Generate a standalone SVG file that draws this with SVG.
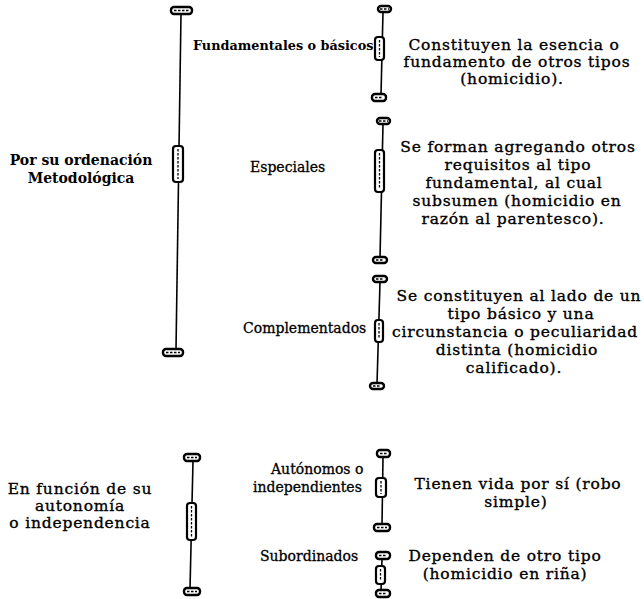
<svg xmlns="http://www.w3.org/2000/svg" width="644" height="599" viewBox="0 0 644 599">
<defs>
<style>
.bg{fill:#fff}
.t{font-family:"DejaVu Serif","Liberation Serif",serif;fill:#000}
.lb{font-size:14px;font-weight:bold;text-anchor:middle}
.mb{font-size:12.8px;font-weight:bold}
.m{font-size:14px;stroke:#000;stroke-width:0.3}
.r{font-size:15.5px;letter-spacing:0.8px;text-anchor:middle;stroke:#000;stroke-width:0.35}
.ln{stroke:#000;stroke-width:1.6;fill:none}
.cap{fill:#fff;stroke:#000;stroke-width:2.4}
.mid{fill:#fff;stroke:#000;stroke-width:2.2}
.tex{stroke:#000;stroke-width:1.3;stroke-dasharray:2.5 1.5;fill:none}
</style>
</defs>
<rect class="bg" width="644" height="599"/>
<g id="connectors">
  <g id="brace-left-1">
    <path class="ln" d="M181 14 L176 350"/>
    <rect class="cap" x="171" y="7" width="21" height="7" rx="3"/><path class="tex" d="M174 10.5 H189"/>
    <rect class="mid" x="173" y="146" width="10" height="36" rx="3"/><path class="tex" d="M178 149 V179"/>
    <rect class="cap" x="163" y="349" width="20" height="7" rx="3"/><path class="tex" d="M166 352.5 H180"/>
  </g>
  <g id="brace-right-1">
    <path class="ln" d="M383 12 L381 95"/>
    <rect class="cap" x="378" y="6" width="13" height="6" rx="3"/><path class="tex" d="M380 9 H389"/>
    <rect class="mid" x="375" y="37" width="9" height="23" rx="3"/><path class="tex" d="M379.5 40 V57"/>
    <rect class="cap" x="372" y="94" width="14" height="7" rx="3"/><path class="tex" d="M375 97.5 H383"/>
  </g>
  <g id="brace-right-2">
    <path class="ln" d="M383 124 L380 258"/>
    <rect class="cap" x="377" y="118" width="13" height="6" rx="3"/><path class="tex" d="M379 121 H388"/>
    <rect class="mid" x="375" y="150" width="9" height="42" rx="3"/><path class="tex" d="M379.5 153 V189"/>
    <rect class="cap" x="373" y="257" width="14" height="6" rx="3"/><path class="tex" d="M376 260 H384"/>
  </g>
  <g id="brace-right-3">
    <path class="ln" d="M380 282 L377 384"/>
    <rect class="cap" x="373" y="276" width="14" height="6" rx="3"/><path class="tex" d="M376 279 H384"/>
    <rect class="mid" x="375" y="320" width="8" height="22" rx="3"/><path class="tex" d="M379 323 V339"/>
    <rect class="cap" x="370" y="383" width="14" height="6" rx="3"/><path class="tex" d="M373 386 H381"/>
  </g>
  <g id="brace-left-2">
    <path class="ln" d="M193 461 L190 589"/>
    <rect class="cap" x="184" y="454" width="16" height="7" rx="3"/><path class="tex" d="M187 457.5 H197"/>
    <rect class="mid" x="187" y="503" width="9" height="37" rx="3"/><path class="tex" d="M191.5 506 V537"/>
    <rect class="cap" x="184" y="588" width="16" height="7" rx="3"/><path class="tex" d="M187 591.5 H197"/>
  </g>
  <g id="brace-right-4">
    <path class="ln" d="M383 457 L382 525"/>
    <rect class="cap" x="377" y="450" width="13" height="7" rx="3"/><path class="tex" d="M380 453.5 H387"/>
    <rect class="mid" x="376" y="478" width="10" height="19" rx="3"/><path class="tex" d="M381 481 V494"/>
    <rect class="cap" x="374" y="524" width="16" height="7" rx="3"/><path class="tex" d="M377 527.5 H387"/>
  </g>
  <g id="brace-right-5">
    <path class="ln" d="M382 559 L381 591"/>
    <rect class="cap" x="376" y="552" width="14" height="7" rx="3"/><path class="tex" d="M379 555.5 H387"/>
    <rect class="mid" x="376" y="566" width="9" height="18" rx="3"/><path class="tex" d="M380.5 569 V581"/>
    <rect class="cap" x="376" y="590" width="14" height="7" rx="3"/><path class="tex" d="M379 593.5 H387"/>
  </g>
</g>
<g id="node-ordenacion"><text class="t lb"><tspan x="81" y="165">Por su ordenación</tspan><tspan x="81" y="183">Metodológica</tspan></text></g>
<g id="node-fundamentales"><text class="t mb" x="193" y="50">Fundamentales o básicos</text></g>
<g id="node-especiales"><text class="t m" x="250" y="172">Especiales</text></g>
<g id="node-complementados"><text class="t m" x="243" y="333">Complementados</text></g>
<g id="desc-fundamentales"><text class="t r"><tspan x="514" y="50">Constituyen la esencia o</tspan><tspan x="517" y="67">fundamento de otros tipos</tspan><tspan x="512" y="84">(homicidio).</tspan></text></g>
<g id="desc-especiales"><text class="t r"><tspan x="518" y="152">Se forman agregando otros</tspan><tspan x="518" y="170">requisitos al tipo</tspan><tspan x="514" y="188">fundamental, al cual</tspan><tspan x="517" y="206">subsumen (homicidio en</tspan><tspan x="513" y="224">razón al parentesco).</tspan></text></g>
<g id="desc-complementados"><text class="t r"><tspan x="519" y="301">Se constituyen al lado de un</tspan><tspan x="521" y="319">tipo básico y una</tspan><tspan x="515" y="337">circunstancia o peculiaridad</tspan><tspan x="517" y="355">distinta (homicidio</tspan><tspan x="514" y="373">calificado).</tspan></text></g>
<g id="node-autonomia"><text class="t r"><tspan x="80" y="494">En función de su</tspan><tspan x="80" y="511">autonomía</tspan><tspan x="80" y="528">o independencia</tspan></text></g>
<g id="node-autonomos"><text class="t m"><tspan x="271" y="474">Autónomos o</tspan><tspan x="253" y="492">independientes</tspan></text></g>
<g id="node-subordinados"><text class="t m" x="260" y="561">Subordinados</text></g>
<g id="desc-autonomos"><text class="t r"><tspan x="518" y="489">Tienen vida por sí (robo</tspan><tspan x="516" y="507">simple)</tspan></text></g>
<g id="desc-subordinados"><text class="t r"><tspan x="505" y="561">Dependen de otro tipo</tspan><tspan x="505" y="579">(homicidio en riña)</tspan></text></g>
</svg>
